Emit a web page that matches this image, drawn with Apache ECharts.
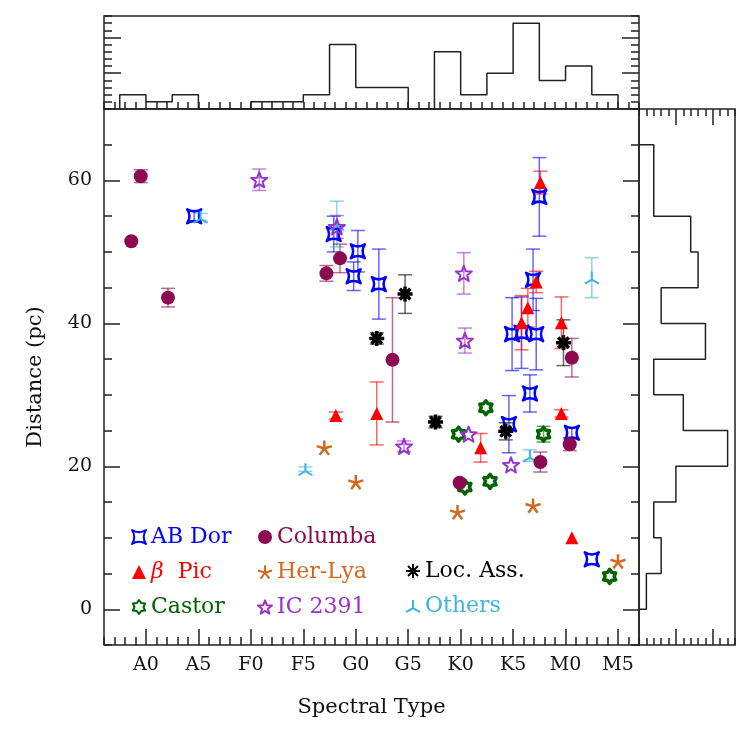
<!DOCTYPE html>
<html><head><meta charset="utf-8">
<script src="https://cdn.jsdelivr.net/npm/echarts@6/dist/echarts.min.js"></script>
<style>html,body{margin:0;padding:0;background:#fff}#c{width:747px;height:747px}</style>
</head><body><div id="c"></div><script>
// ---- axis ticks / labels ----
const spectralTicks = [0, 5, 10, 15, 20, 25, 30, 35, 40, 45];
const spectralLabels = ['A0', 'A5', 'F0', 'F5', 'G0', 'G5', 'K0', 'K5', 'M0', 'M5'];
const distTicks = [0, 20, 40, 60];
const histMajor = [5, 10];

// ---- data: [spectral type (A0=0), distance pc, error pc] ----
const abDor = [[4.6,55.0,0.8],[17.9,52.5,2.5],[20.2,50.1,2.9],[19.8,46.6,2.0],[22.2,45.5,4.9],[37.5,57.7,5.5],[36.9,46.1,4.3],[34.9,38.5,5.1],[35.8,38.7,5.0],[37.2,38.5,5.0],[36.6,30.2,2.6],[34.6,25.9,4.0],[40.6,24.7,0.7],[42.5,7.0,0]];
const columba = [[-1.4,51.5,0],[-0.5,60.6,0.9],[2.1,43.6,1.3],[17.2,47.0,1.1],[18.5,49.1,2.0],[23.5,34.9,8.7],[29.9,17.7,0],[37.6,20.6,1.4],[40.4,23.1,0.9],[40.6,35.2,2.7]];
const betaPic = [[18.1,27.1,0.5],[22.0,27.4,4.4],[31.9,22.6,2.0],[39.6,27.4,0.5],[37.6,59.7,1.6],[37.2,45.8,1.5],[36.4,42.2,2.7],[35.8,40.1,3.8],[39.6,40.1,3.6],[40.6,10.0,0]];
const herLya = [[17.0,22.6,0],[20.0,17.8,0],[29.7,13.6,0],[36.9,14.5,0],[45.0,6.7,0]];
const locAss = [[22.0,37.9,0.8],[24.7,44.1,2.7],[27.6,26.2,0.8],[34.3,24.9,1.2],[39.8,37.3,3.2]];
const castor = [[29.8,24.5,0],[30.4,17.1,0],[32.4,28.2,0],[32.8,17.9,0],[37.9,24.5,1.1],[44.2,4.6,0]];
const ic2391 = [[10.8,60.1,1.5],[18.2,53.5,1.6],[24.6,22.8,0.75],[30.3,47.0,2.9],[30.4,37.6,1.75],[30.75,24.5,0],[34.8,20.2,0]];
const others = [[5.2,54.9,0.5],[18.2,53.9,3.2],[15.2,19.6,0.3],[36.6,21.5,0.8],[42.5,46.4,2.8]];

// ---- histograms ----
const specBinStart = -2.5, specBinWidth = 2.5;
const specCounts = [2,1,2,0,0,1,1,2,9,3,3,0,8,2,5,12,4,6,2];
const distBinStart = 0, distBinWidth = 5;
const distCounts = [1,3,2,5,12,6,2,9,3,8,7,2,2];

// ---- styling ----
const FONT = 'DejaVu Serif';
const AX = '#222';
function starPath(n, rO, rI) {
  let s = 'path://';
  for (let k = 0; k < 2 * n; k++) {
    const r = k % 2 ? rI : rO, a = -Math.PI / 2 + k * Math.PI / n;
    s += (k ? 'L' : 'M') + (r * Math.cos(a)).toFixed(2) + ',' + (r * Math.sin(a)).toFixed(2);
  }
  return s + 'Z';
}
function spokes(n, r) {
  let s = 'path://';
  for (let k = 0; k < n; k++) {
    const a = -Math.PI / 2 + k * 2 * Math.PI / n;
    s += 'M0,0L' + (r * Math.cos(a)).toFixed(2) + ',' + (r * Math.sin(a)).toFixed(2);
  }
  return s;
}
const ABDOR = 'path://M-10,-10Q0,-3.5 10,-10Q3.5,0 10,10Q0,3.5 -10,10Q-3.5,0 -10,-10Z';

const groups = [
  {name: 'Castor', data: castor, color: '#006400', symbol: starPath(6, 10, 6.5), size: 14, fill: 'rgba(255,255,255,0)', bw: 3.5},
  {name: 'AB Dor', data: abDor, color: '#0000ff', symbol: ABDOR, size: 14, fill: 'rgba(255,255,255,0)', bw: 2.5},
  {name: 'Others', data: others, color: '#3cb4e4', symbol: spokes(3, 10), size: 14, fill: '#3cb4e4', bw: 2},
  {name: 'Columba', data: columba, color: '#8b0a50', symbol: 'circle', size: 14, fill: '#8b0a50', bw: 0},
  {name: 'IC 2391', data: ic2391, color: '#9932cc', symbol: starPath(5, 10, 4.2), size: 16, fill: 'rgba(255,255,255,0)', bw: 2},
  {name: 'β Pic', data: betaPic, color: '#ff0000', symbol: 'triangle', size: 13, fill: '#ff0000', bw: 0},
  {name: 'Her-Lya', data: herLya, color: '#d2691e', symbol: spokes(5, 10), size: 15, fill: '#d2691e', bw: 2.5},
  {name: 'Loc. Ass.', data: locAss, color: '#000000', symbol: spokes(8, 10), size: 15, fill: '#000', bw: 3.5}
];
const colorOf = {};
groups.forEach(g => colorOf[g.name] = g.color);

const allSeries = [];
// scatter series first (legend icons come from these)
groups.forEach(g => {
  allSeries.push({
    type: 'scatter', name: g.name, xAxisIndex: 0, yAxisIndex: 0, z: 3,
    data: g.data.map(d => [d[0], d[1]]),
    symbol: g.symbol, symbolSize: g.size, symbolKeepAspect: true,
    itemStyle: {color: g.fill, borderColor: g.color, borderWidth: g.bw, borderJoin: 'round', opacity: 1},
    emphasis: {disabled: true}
  });
});
// error bars
groups.forEach(g => {
  allSeries.push({
    type: 'custom', name: g.name, xAxisIndex: 0, yAxisIndex: 0, z: 1, silent: true,
    data: g.data.filter(d => d[2] > 0).map(d => [d[0], d[1] - d[2], d[1] + d[2]]),
    encode: {x: 0, y: [1, 2]},
    renderItem: function (params, api) {
      const x = api.value(0);
      const p1 = api.coord([x, api.value(1)]), p2 = api.coord([x, api.value(2)]);
      const hw = 7;
      const st = {stroke: g.color, lineWidth: 1.5, opacity: 0.6};
      return {type: 'group', children: [
        {type: 'line', shape: {x1: p1[0], y1: p1[1], x2: p2[0], y2: p2[1]}, style: st},
        {type: 'line', shape: {x1: p1[0] - hw, y1: p1[1], x2: p1[0] + hw, y2: p1[1]}, style: st},
        {type: 'line', shape: {x1: p2[0] - hw, y1: p2[1], x2: p2[0] + hw, y2: p2[1]}, style: st}
      ]};
    }
  });
});

// histogram step lines
const topHist = [[specBinStart, 0]];
specCounts.forEach((c, i) => {
  const lo = specBinStart + i * specBinWidth;
  topHist.push([lo, c], [lo + specBinWidth, c]);
});
topHist.push([specBinStart + specCounts.length * specBinWidth, 0]);
const rightHist = [[0, distBinStart]];
distCounts.forEach((c, i) => {
  const lo = distBinStart + i * distBinWidth;
  rightHist.push([c, lo], [c, lo + distBinWidth]);
});
rightHist.push([0, distBinStart + distCounts.length * distBinWidth]);
allSeries.push({type: 'line', xAxisIndex: 2, yAxisIndex: 4, data: topHist, showSymbol: false, symbol: 'none',
  lineStyle: {color: AX, width: 1.5}, silent: true, z: 2});
allSeries.push({type: 'line', xAxisIndex: 3, yAxisIndex: 8, data: rightHist, showSymbol: false, symbol: 'none',
  lineStyle: {color: AX, width: 1.5}, silent: true, z: 2});

const tl = {color: AX, width: 1.5};
function ax(o) {
  return Object.assign({
    type: 'value', splitLine: {show: false},
    axisLine: {show: false, onZero: false, lineStyle: tl},
    axisLabel: {show: false}
  }, o);
}
const labelStyle = {fontFamily: FONT, fontSize: 19, color: '#111'};

const xAxis = [
  ax({gridIndex: 0, min: -4, max: 47, position: 'bottom',
      axisTick: {show: true, inside: true, length: 16, customValues: spectralTicks, lineStyle: tl},
      axisLabel: Object.assign({show: true, margin: 11, customValues: spectralTicks,
        formatter: v => spectralLabels[spectralTicks.indexOf(v)]}, labelStyle),
      name: 'Spectral Type', nameLocation: 'middle', nameGap: 52,
      nameTextStyle: {fontFamily: FONT, fontSize: 21, color: '#111'}}),
  ax({gridIndex: 0, min: -4, max: 47, interval: 1, position: 'bottom',
      axisTick: {show: true, inside: true, length: 8, lineStyle: tl}}),
  ax({gridIndex: 1, min: -4, max: 47, interval: 1, position: 'bottom',
      axisTick: {show: true, inside: true, length: 7, lineStyle: tl}}),
  ax({gridIndex: 2, min: 0, max: 13, interval: 1, position: 'top',
      axisTick: {show: true, inside: true, length: 7, lineStyle: tl}}),
  ax({gridIndex: 2, min: 0, max: 13, position: 'top',
      axisTick: {show: true, inside: true, length: 16, customValues: histMajor, lineStyle: tl}}),
  ax({gridIndex: 2, min: 0, max: 13, interval: 1, position: 'bottom',
      axisTick: {show: true, inside: true, length: 7, lineStyle: tl}}),
  ax({gridIndex: 2, min: 0, max: 13, position: 'bottom',
      axisTick: {show: true, inside: true, length: 16, customValues: histMajor, lineStyle: tl}})
];
const yAxis = [
  ax({gridIndex: 0, min: -5, max: 70, position: 'left',
      axisTick: {show: true, inside: true, length: 16, customValues: distTicks, lineStyle: tl},
      axisLabel: Object.assign({show: true, margin: 12, customValues: distTicks}, labelStyle),
      name: 'Distance (pc)', nameLocation: 'middle', nameGap: 58,
      nameTextStyle: {fontFamily: FONT, fontSize: 21, color: '#111'}}),
  ax({gridIndex: 0, min: -5, max: 70, interval: 5, position: 'left',
      axisTick: {show: true, inside: true, length: 8, lineStyle: tl}}),
  ax({gridIndex: 0, min: -5, max: 70, position: 'right',
      axisTick: {show: true, inside: true, length: 16, customValues: distTicks, lineStyle: tl}}),
  ax({gridIndex: 0, min: -5, max: 70, interval: 5, position: 'right',
      axisTick: {show: true, inside: true, length: 8, lineStyle: tl}}),
  ax({gridIndex: 1, min: 0, max: 13, interval: 1, position: 'left',
      axisTick: {show: true, inside: true, length: 8, lineStyle: tl}}),
  ax({gridIndex: 1, min: 0, max: 13, position: 'left',
      axisTick: {show: true, inside: true, length: 17, customValues: histMajor, lineStyle: tl}}),
  ax({gridIndex: 1, min: 0, max: 13, interval: 1, position: 'right',
      axisTick: {show: true, inside: true, length: 8, lineStyle: tl}}),
  ax({gridIndex: 1, min: 0, max: 13, position: 'right',
      axisTick: {show: true, inside: true, length: 17, customValues: histMajor, lineStyle: tl}}),
  ax({gridIndex: 2, min: -5, max: 70, position: 'left', axisTick: {show: false}})
];

const legendText = {fontFamily: FONT, fontSize: 22, lineHeight: 22};
function legendItem(name) {
  const ts = {color: colorOf[name]};
  if (name === 'β Pic') ts.rich = {b: {fontStyle: 'italic', color: colorOf[name], fontFamily: FONT, fontSize: 22}};
  return {name: name, textStyle: ts};
}
function legend(names, left, top) {
  return {
    data: names.map(legendItem), orient: 'vertical', left: left, top: top,
    itemWidth: 14, itemHeight: 14, itemGap: 13, padding: 0,
    textStyle: legendText, selectedMode: false,
    formatter: n => n === 'β Pic' ? '{b|β}  Pic' : n
  };
}

const chart = echarts.init(document.getElementById('c'), null, {renderer: 'canvas'});
chart.setOption({
  animation: false,
  backgroundColor: '#fff',
  grid: [
    {left: 104, top: 109, width: 535, height: 536, show: true, borderColor: AX, borderWidth: 1.5, backgroundColor: 'rgba(0,0,0,0)'},
    {left: 104, top: 16, width: 535, height: 93, show: true, borderColor: AX, borderWidth: 1.5, backgroundColor: 'rgba(0,0,0,0)'},
    {left: 639, top: 109, width: 96, height: 536, show: true, borderColor: AX, borderWidth: 1.5, backgroundColor: 'rgba(0,0,0,0)'}
  ],
  xAxis: xAxis,
  yAxis: yAxis,
  legend: [
    legend(['AB Dor', 'β Pic', 'Castor'], 131, 526),
    legend(['Columba', 'Her-Lya', 'IC 2391'], 257, 526),
    legend(['Loc. Ass.', 'Others'], 405, 560)
  ],
  series: allSeries
});
</script></body></html>
